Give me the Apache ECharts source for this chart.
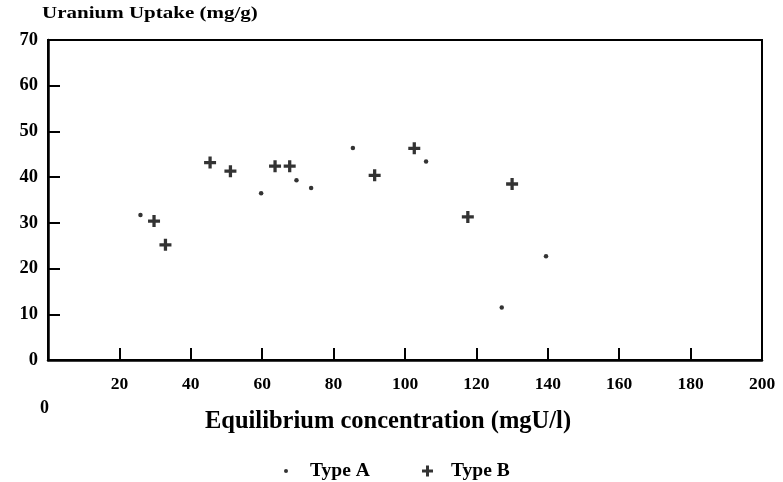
<!DOCTYPE html>
<html>
<head>
<meta charset="utf-8">
<script src="https://cdn.jsdelivr.net/npm/echarts@6/dist/echarts.min.js"></script>
<style>
  html, body { margin: 0; padding: 0; background: #fff; }
  #chart { width: 783px; height: 482px; }
</style>
</head>
<body>
<div id="chart"></div>
<script>
// Uranium uptake vs. equilibrium concentration for two sorbent types
const typeAConc = [25.9, 59.7, 69.6, 73.7, 85.4, 105.9, 127.1, 139.5];
const typeAUptake = [31.7, 36.5, 39.3, 37.6, 46.4, 43.4, 11.5, 22.7];

const typeBConc = [29.7, 32.9, 45.4, 51.1, 63.6, 67.7, 91.5, 102.6, 117.6, 130.0];
const typeBUptake = [30.4, 25.2, 43.2, 41.3, 42.4, 42.4, 40.4, 46.3, 31.3, 38.5];

const xTicks = [20, 40, 60, 80, 100, 120, 140, 160, 180, 200];
const yTicks = [0, 10, 20, 30, 40, 50, 60, 70];

const FONT = '"Liberation Serif", "Times New Roman", serif';
const plusPath = 'path://M4,0h3v4h4v3h-4v4h-3v-4h-4v-3h4z';

const pairs = (xs, ys) => xs.map((x, i) => [x, ys[i]]);

const chart = echarts.init(document.getElementById('chart'));
chart.setOption({
  animation: false,
  backgroundColor: '#fff',
  grid: {
    left: 48, right: 21, top: 40, bottom: 122,
    show: true, borderColor: '#000', borderWidth: 2, backgroundColor: 'transparent'
  },
  xAxis: {
    type: 'value', min: 0, max: 200, interval: 20,
    name: 'Equilibrium concentration (mgU/l)',
    nameLocation: 'middle', nameGap: 49,
    nameTextStyle: {
      fontFamily: FONT, fontWeight: 'bold', fontSize: 24.5, color: '#000',
      padding: [0, 34, 0, 0]
    },
    axisLine: { show: true, lineStyle: { color: '#000', width: 2.5 } },
    axisTick: { show: true, inside: true, length: 12, lineStyle: { color: '#000', width: 2 } },
    axisLabel: {
      margin: 15, fontFamily: FONT, fontWeight: 'bold', fontSize: 17.5, color: '#000',
      formatter: v => (xTicks.indexOf(v) >= 0 ? String(v) : '')
    },
    splitLine: { show: false }
  },
  yAxis: {
    type: 'value', min: 0, max: 70, interval: 10,
    axisLine: { show: true, lineStyle: { color: '#000', width: 2.5 } },
    axisTick: { show: true, inside: true, length: 12, lineStyle: { color: '#000', width: 2 } },
    axisLabel: {
      margin: 10, fontFamily: FONT, fontWeight: 'bold', fontSize: 18.5, color: '#000',
      formatter: v => (yTicks.indexOf(v) >= 0 ? String(v) : '')
    },
    splitLine: { show: false }
  },
  legend: [
    {
      data: ['Type A'], left: 279, top: 456, itemWidth: 4, itemHeight: 4,
      icon: 'circle',
      textStyle: { fontFamily: FONT, fontWeight: 'bold', fontSize: 19.5, color: '#000', padding: [0, 0, 0, 17] }
    },
    {
      data: ['Type B'], left: 417, top: 456, itemWidth: 11, itemHeight: 11,
      icon: plusPath,
      textStyle: { fontFamily: FONT, fontWeight: 'bold', fontSize: 19.5, color: '#000', padding: [0, 0, 0, 13] }
    }
  ],
  graphic: [
    {
      type: 'text', left: 42, top: 4, scaleX: 1.2,
      style: { text: 'Uranium Uptake (mg/g)', font: 'bold 17.5px ' + FONT, fill: '#000' }
    },
    {
      type: 'text', left: 40, top: 399,
      style: { text: '0', font: 'bold 18px ' + FONT, fill: '#000' }
    }
  ],
  series: [
    {
      name: 'Type A', type: 'scatter', symbol: 'circle', symbolSize: 4.5,
      itemStyle: { color: '#000' },
      data: pairs(typeAConc, typeAUptake)
    },
    {
      name: 'Type B', type: 'scatter', symbol: plusPath, symbolSize: 12,
      itemStyle: { color: '#000' },
      data: pairs(typeBConc, typeBUptake)
    }
  ]
});
</script>
</body>
</html>
